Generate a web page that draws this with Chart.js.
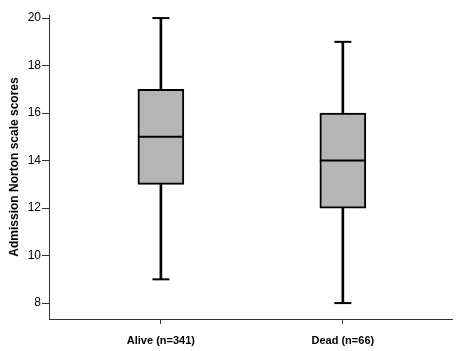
<!DOCTYPE html>
<html>
<head>
<meta charset="utf-8">
<script src="https://cdn.jsdelivr.net/npm/chart.js@4/dist/chart.umd.min.js"></script>
<style>
  html, body { margin: 0; padding: 0; background: #fff; }
</style>
</head>
<body>
<canvas id="chart" width="460" height="351"></canvas>
<script>
// Box plot data
const groups = ["Alive (n=341)", "Dead (n=66)"];
const whiskerMin = [9, 8];
const q1 = [13, 12];
const median = [15, 14];
const q3 = [17, 16];
const whiskerMax = [20, 19];
const yTicks = [8, 10, 12, 14, 16, 18, 20];

const pos = groups.map((g, i) => i + 1);
const font = { family: "Arial, 'Liberation Sans', sans-serif", size: 11 };

new Chart(document.getElementById("chart"), {
  type: "bar",
  data: {
    datasets: [
      {
        // median line
        type: "scatter",
        order: 0,
        data: pos.map((x, i) => ({ x: x, y: median[i] })),
        pointStyle: "line",
        pointRadius: 23,
        borderColor: "#000",
        borderWidth: 2,
      },
      {
        // box (Q1 - Q3)
        order: 1,
        grouped: false,
        data: pos.map((x, i) => ({ x: x, y: [q1[i], q3[i]] })),
        backgroundColor: "#b5b5b5",
        borderColor: "#000",
        borderWidth: 2,
        borderSkipped: false,
        barThickness: 46,
      },
      {
        // whisker stem
        order: 2,
        grouped: false,
        data: pos.map((x, i) => ({ x: x, y: [whiskerMin[i], whiskerMax[i]] })),
        backgroundColor: "#000",
        borderWidth: 0,
        barThickness: 2,
      },
      {
        // whisker caps
        type: "scatter",
        order: 2,
        data: pos.flatMap((x, i) => [
          { x: x, y: whiskerMin[i] },
          { x: x, y: whiskerMax[i] },
        ]),
        pointStyle: "line",
        pointRadius: 8.5,
        borderColor: "#000",
        borderWidth: 2,
      },
    ],
  },
  options: {
    responsive: false,
    animation: false,
    devicePixelRatio: 1,
    layout: { autoPadding: false, padding: { top: 15, right: 8, left: 0, bottom: 0 } },
    plugins: { legend: { display: false }, tooltip: { enabled: false } },
    scales: {
      x: {
        type: "linear",
        min: 0.385,
        max: 2.6,
        offset: false,
        afterBuildTicks: (s) => { s.ticks = pos.map((v) => ({ value: v })); },
        afterFit: (s) => {
          s.height = 32;
          s.paddingLeft = 0;
          s.paddingRight = 0;
        },
        ticks: {
          color: "#000",
          font: { ...font, weight: "bold" },
          padding: 10,
          autoSkip: false,
          maxRotation: 0,
          callback: (v) => groups[v - 1],
        },
        grid: {
          drawOnChartArea: false,
          offset: false,
          tickLength: 5,
          tickColor: "#333",
          tickWidth: 1,
        },
        border: { color: "#333", width: 1 },
      },
      y: {
        min: 7.33,
        max: 20.13,
        afterBuildTicks: (s) => { s.ticks = yTicks.map((v) => ({ value: v })); },
        afterFit: (s) => {
          s.width = 49;
          s.paddingTop = 0;
          s.paddingBottom = 0;
        },
        ticks: { color: "#000", font: { ...font, size: 12 }, padding: 1 },
        grid: { drawOnChartArea: false, tickLength: 7, color: "#333" },
        border: { color: "#333", width: 1 },
        title: {
          display: true,
          text: "Admission Norton scale scores",
          color: "#000",
          font: { ...font, size: 12, weight: "bold" },
          padding: { top: 7, bottom: 0 },
        },
      },
    },
  },
});
</script>
</body>
</html>
